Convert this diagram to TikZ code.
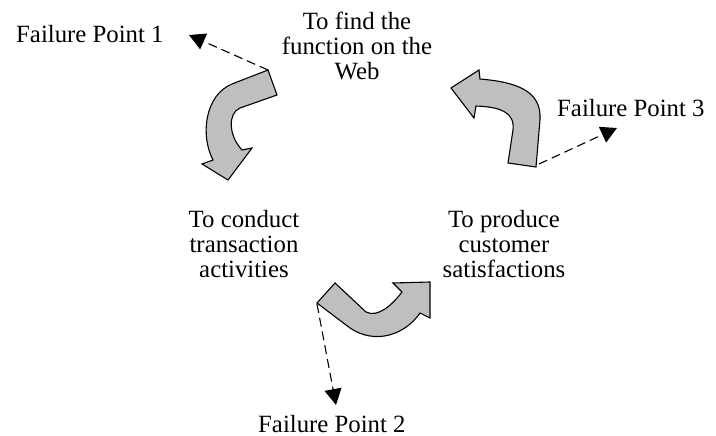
\documentclass[tikz,border=0pt]{standalone}
\usepackage{fontspec}
\setmainfont{Liberation Serif}
\usetikzlibrary{arrows.meta}
\begin{document}
\begin{tikzpicture}[x=1pt,y=-1pt,
  lbl/.style={inner sep=0pt,font=\fontsize{24.8}{25}\selectfont},
  ml/.style={lbl,align=center,anchor=north},
  blockarrow/.style={draw=black,line width=1.1pt,fill=black!25,line join=miter},
  fail/.style={draw=black,line width=1.1pt,dash pattern=on 9pt off 5pt,-{Triangle[length=16pt,width=17pt]}}]
\useasboundingbox (0,0) rectangle (716,436);
% text nodes
\node[ml] (find) at (357,12) {To find the\\function on the\\Web};
\node[ml] (conduct) at (244,210) {To conduct\\transaction\\activities};
\node[ml] (produce) at (504,210) {To produce\\customer\\satisfactions};
\node[lbl,anchor=base west] (fp1) at (16,43) {Failure Point 1};
\node[lbl,anchor=base west] (fp3) at (557,117) {Failure Point 3};
\node[lbl,anchor=base west] (fp2) at (258,432) {Failure Point 2};
% block arrows
\draw[blockarrow] (268,70) -- (232,84) .. controls (205,95) and (200,135) .. (213,160)
  -- (202,164) -- (228,180) -- (252,148) -- (242,150)
  .. controls (228,135) and (228,113) .. (240,108) -- (277,95) -- cycle;
\draw[blockarrow] (508,163) -- (536,167) -- (540,120) .. controls (542,90) and (515,82) .. (480,79)
  -- (479,70) -- (451,88) -- (474,118) -- (476,106)
  .. controls (500,107) and (515,112) .. (513,130) -- cycle;
\draw[blockarrow] (335,283) -- (366,312) .. controls (378,318) and (392,305) .. (402,292)
  -- (393,283) -- (430,282) -- (430,318) -- (420,313)
  .. controls (405,335) and (375,345) .. (350,328) -- (317,303) -- cycle;
% connector ends
\coordinate (t1) at (268,70);
\coordinate (h1) at (189,35);
\coordinate (t3) at (539,164);
\coordinate (h3) at (617,128);
\coordinate (t2) at (317,304);
\coordinate (h2) at (336,405);
\draw[fail] (t1) -- (h1);
\draw[fail] (t3) -- (h3);
\draw[fail] (t2) -- (h2);
\end{tikzpicture}
\end{document}
